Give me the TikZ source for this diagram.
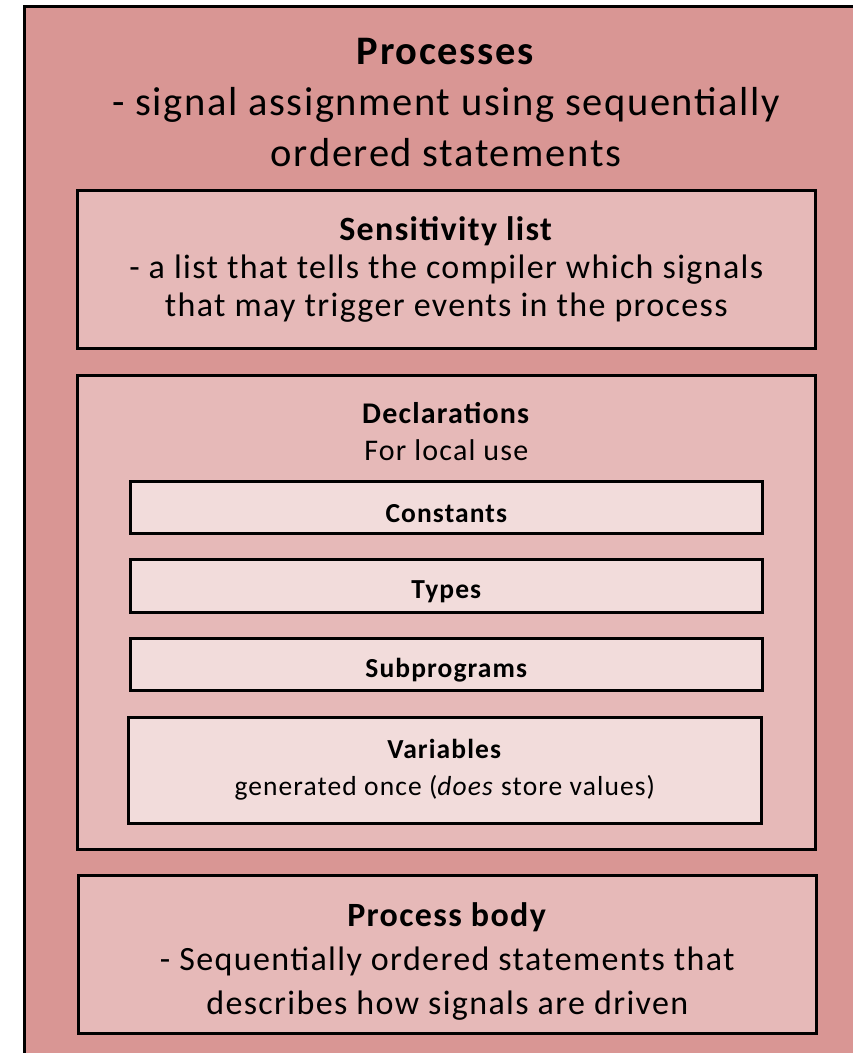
\documentclass[tikz,border=0pt]{standalone}
\usepackage{fontspec}
\setmainfont{Carlito}[LetterSpace=4]
\definecolor{outerfill}{HTML}{D99694}
\definecolor{midfill}{HTML}{E6B9B8}
\definecolor{innerfill}{HTML}{F2DCDB}
\tikzset{
  frame/.style={draw=black, line width=2.6pt, rectangle, anchor=north west, inner sep=0pt},
  outerbox/.style={frame, fill=outerfill},
  midbox/.style={frame, fill=midfill},
  innerbox/.style={frame, fill=innerfill},
  label/.style={align=center, inner sep=0pt},
  itemlabel/.style={label, font=\fontsize{27.5}{37}\selectfont},
  itemtitle/.style={label, yshift=-6pt, font=\fontsize{27.5}{37}\selectfont\bfseries},
}
\begin{document}
\begin{tikzpicture}[x=1pt,y=-1pt]
\useasboundingbox (0,0) rectangle (853,1053);
\clip (0,0) rectangle (853,1053);
% enclosing process frame, running off the right and bottom edges
\node[outerbox, minimum width=860pt, minimum height=1070pt] (proc) at (23,5) {};
\node[label, anchor=north, font=\fontsize{40.5}{51}\selectfont] (proctitle) at (446,38)
  {\textbf{Processes}\\- signal assignment using sequentially\\ordered statements};
% sensitivity list
\node[midbox, minimum width=738pt, minimum height=158pt] (sens) at (76,189) {};
\node[label, font=\fontsize{34}{38}\selectfont] (senstext) at (sens.center)
  {\textbf{Sensitivity list}\\- a list that tells the compiler which signals\\that may trigger events in the process};
% declarations
\node[midbox, minimum width=738pt, minimum height=474pt] (decl) at (76,374) {};
\node[label, anchor=north, font=\fontsize{30}{37}\selectfont] (decltitle) at (decl.north |- 0,402)
  {\textbf{Declarations}\\For local use};
\node[innerbox, minimum width=632pt, minimum height=52pt] (const) at (129,480) {};
\node[itemtitle] (consttext) at (const.center) {Constants};
\node[innerbox, minimum width=632pt, minimum height=53pt] (types) at (129,558) {};
\node[itemtitle] (typestext) at (types.center) {Types};
\node[innerbox, minimum width=632pt, minimum height=52pt] (subprog) at (129,637) {};
\node[itemtitle] (subprogtext) at (subprog.center) {Subprograms};
\node[innerbox, minimum width=633pt, minimum height=106pt] (vars) at (127,716) {};
\node[itemlabel, yshift=1pt] (varstext) at (vars.center)
  {\textbf{Variables}\\generated once (\textit{does} store values)};
% process body
\node[midbox, minimum width=738pt, minimum height=158pt] (body) at (77,874) {};
\node[label, yshift=-7pt, font=\fontsize{34}{44}\selectfont] (bodytext) at (body.center)
  {\textbf{Process body}\\- Sequentially ordered statements that\\describes how signals are driven};
\end{tikzpicture}
\end{document}
